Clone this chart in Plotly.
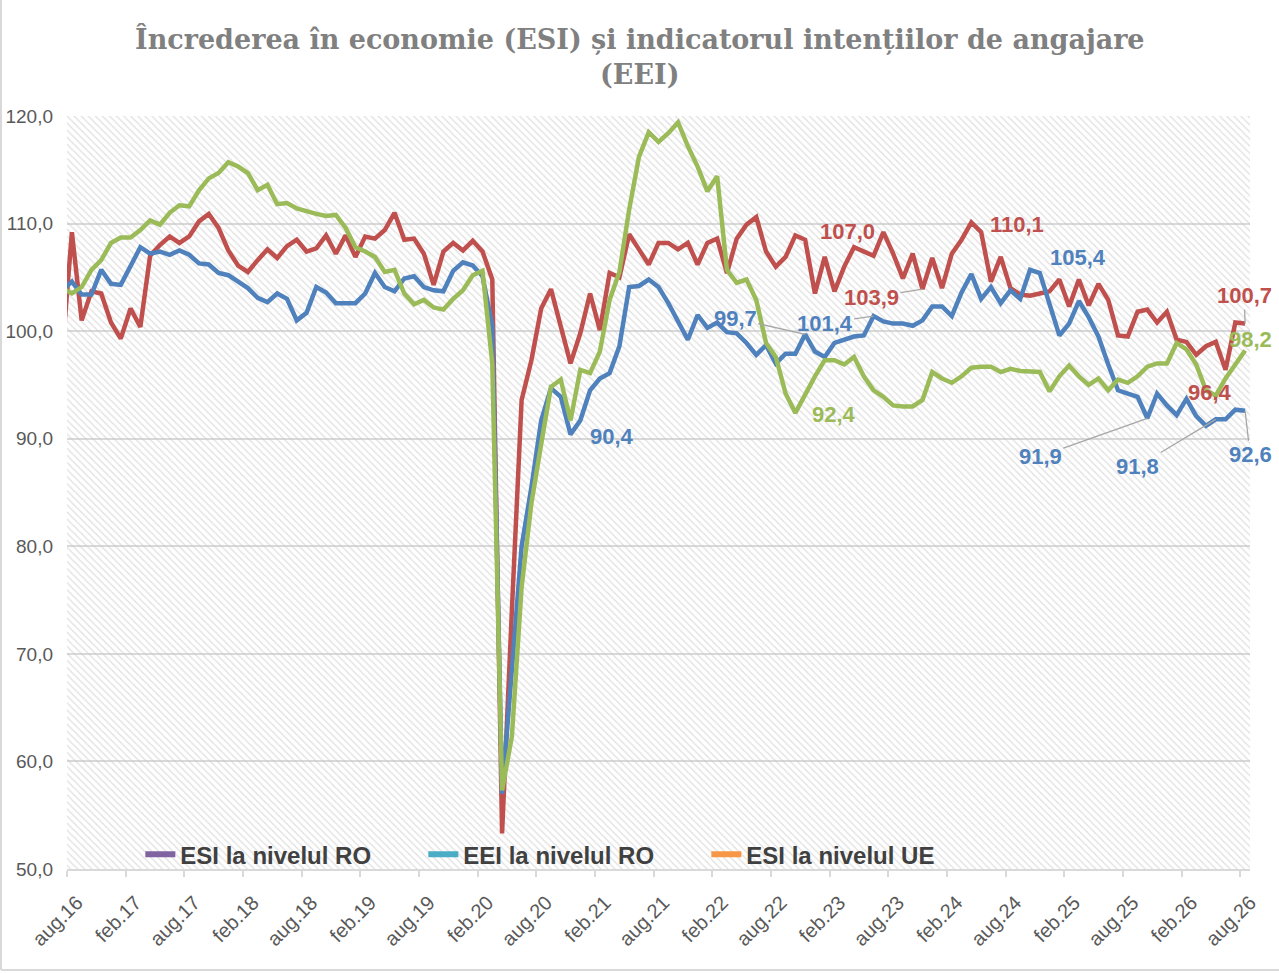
import plotly.graph_objects as go
import numpy as np

# month index: -1 = iul.16 (clipped at the left edge), 0 = aug.16 ... 120 = aug.26
month_idx = np.arange(-1, 121)

tick_labels = ["aug.16", "feb.17", "aug.17", "feb.18", "aug.18", "feb.19", "aug.19",
               "feb.20", "aug.20", "feb.21", "aug.21", "feb.22", "aug.22", "feb.23",
               "aug.23", "feb.24", "aug.24", "feb.25", "aug.25", "feb.26", "aug.26"]

esi_ro = [97.8,
          109.2, 101.0, 103.7, 103.5, 100.8, 99.3, 102.1, 100.4, 107.0, 108.0,
          108.8, 108.2, 108.8, 110.2, 110.9, 109.6, 107.5, 106.1, 105.5, 106.6,
          107.6, 106.8, 107.9, 108.5, 107.4, 107.7, 108.9, 107.2, 108.9, 106.9,
          108.8, 108.6, 109.4, 111.0, 108.5, 108.6, 107.2, 104.3, 107.4, 108.2,
          107.5, 108.4, 107.4, 104.8, 53.3, 74.0, 93.6, 97.3, 102.1, 103.9,
          100.4, 97.0, 99.8, 103.5, 100.1, 105.4, 105.0, 109.0, 107.6, 106.2,
          108.2, 108.2, 107.6, 108.2, 106.2, 108.2, 108.6, 105.4, 108.6, 109.9,
          110.6, 107.4, 106.0, 106.9, 108.9, 108.5, 103.5, 106.9, 103.7, 106.0,
          107.8, 107.4, 107.0, 109.2, 107.2, 104.9, 107.2, 103.9, 106.8, 104.0,
          107.2, 108.5, 110.1, 109.2, 104.6, 106.9, 104.0, 103.4, 103.3, 103.5,
          103.7, 104.8, 102.3, 104.8, 102.4, 104.4, 102.9, 99.6, 99.5, 101.8,
          102.0, 100.8, 101.8, 99.2, 99.0, 97.8, 98.6, 99.0, 96.4, 100.8,
          100.7]

eei_ro = [103.8,
          104.6, 103.4, 103.4, 105.7, 104.4, 104.3, 106.0, 107.8, 107.2, 107.4,
          107.1, 107.5, 107.1, 106.3, 106.2, 105.4, 105.2, 104.6, 104.0, 103.1,
          102.7, 103.5, 103.0, 101.0, 101.7, 104.1, 103.6, 102.6, 102.6, 102.6,
          103.5, 105.4, 104.1, 103.7, 104.9, 105.1, 104.1, 103.8, 103.7, 105.6,
          106.4, 106.1, 105.1, 100.5, 57.0, 68.0, 80.0, 85.5, 91.7, 94.7,
          93.9, 90.4, 91.7, 94.5, 95.6, 96.1, 98.6, 104.1, 104.2, 104.8,
          104.1, 102.6, 101.0, 99.2, 101.5, 100.3, 100.8, 99.9, 99.8, 98.9,
          97.8, 98.7, 97.0, 97.9, 97.9, 99.7, 98.1, 97.6, 98.9, 99.2,
          99.5, 99.6, 101.4, 100.9, 100.7, 100.7, 100.5, 101.0, 102.3, 102.3,
          101.4, 103.6, 105.3, 103.0, 104.1, 102.6, 103.8, 103.0, 105.7, 105.4,
          102.6, 99.6, 100.7, 102.8, 101.3, 99.5, 96.9, 94.5, 94.2, 93.9,
          91.9, 94.2, 93.1, 92.2, 93.7, 92.1, 91.2, 91.8, 91.8, 92.7,
          92.6]

esi_ue = [104.0,
          103.5, 104.1, 105.7, 106.6, 108.2, 108.7, 108.7, 109.4, 110.3, 109.9,
          111.0, 111.7, 111.6, 113.1, 114.2, 114.7, 115.7, 115.3, 114.7, 113.1,
          113.6, 111.8, 111.9, 111.4, 111.1, 110.9, 110.7, 110.8, 109.6, 107.8,
          107.4, 106.9, 105.5, 105.7, 103.5, 102.5, 102.9, 102.2, 102.0, 103.0,
          103.8, 105.2, 105.6, 97.0, 57.3, 62.3, 76.2, 84.0, 89.5, 94.8,
          95.5, 91.7, 96.4, 96.1, 98.1, 102.9, 105.5, 111.3, 116.2, 118.5,
          117.6, 118.4, 119.4, 117.2, 115.3, 113.0, 114.4, 105.7, 104.5, 104.8,
          102.9, 98.9, 97.6, 94.2, 92.4, 94.2, 95.8, 97.3, 97.3, 96.9,
          97.6, 95.8, 94.5, 93.9, 93.1, 93.0, 93.0, 93.6, 96.2, 95.6,
          95.2, 95.8, 96.6, 96.7, 96.7, 96.2, 96.5, 96.3, 96.3, 96.2,
          94.4, 95.8, 96.8, 95.8, 95.0, 95.6, 94.5, 95.5, 95.2, 95.8,
          96.7, 97.0, 97.0, 98.9, 98.3, 96.9, 94.5, 94.0, 95.6, 96.9,
          98.2]

series_names = ["ESI la nivelul RO", "EEI la nivelul RO", "ESI la nivelul UE"]
line_colors = ["#C0504D", "#4F81BD", "#9BBB59"]
legend_colors = ["#8064A2", "#4BACC6", "#F79646"]

x_range = [-0.5, 120.5]
y_range = [50, 120]

fig = go.Figure()

# hatched plot-area background
fig.add_trace(go.Scatter(
    x=[x_range[0], x_range[1], x_range[1], x_range[0], x_range[0]],
    y=[y_range[0], y_range[0], y_range[1], y_range[1], y_range[0]],
    mode="lines", line=dict(width=0), fill="toself",
    fillcolor="rgba(0,0,0,0)",
    fillpattern=dict(shape="\\", fgcolor="#c4c4c4", bgcolor="rgba(255,255,255,0)",
                     size=5, solidity=0.28),
    hoverinfo="skip", showlegend=False))

all_series = [esi_ro, eei_ro, esi_ue]
for vals, col in zip(all_series, line_colors):
    fig.add_trace(go.Scatter(x=month_idx, y=vals, mode="lines",
                             line=dict(color=col, width=4.5),
                             showlegend=False))

# legend entries (colours as in the original legend)
for name, col in zip(series_names, legend_colors):
    fig.add_trace(go.Scatter(x=[None], y=[None], mode="lines", name=name,
                             line=dict(color=col, width=6)))

# data labels: (series, month index, x offset, y offset, leader line)
labels = [
    (0, 82, -26, -24, False),
    (0, 87, -51, 8, True),
    (0, 92, 46, 2, False),
    (0, 118, -16, 23, False),
    (0, 120, -1, -28, True),
    (1, 51, 41, 2, False),
    (1, 75, -70, -16, True),
    (1, 82, -49, 7, True),
    (1, 99, 38, -16, False),
    (1, 110, -107, 38, True),
    (1, 117, -78, 47, True),
    (1, 120, 5, 44, True),
    (2, 74, 39, 2, False),
    (2, 120, 5, -11, False),
]
for s, k, dx, dy, leader in labels:
    v = all_series[s][k + 1]
    fig.add_annotation(
        x=k, y=v, xref="x", yref="y",
        text="<b>" + f"{v:.1f}".replace(".", ",") + "</b>",
        showarrow=True, ax=dx, ay=dy, arrowhead=0, arrowwidth=1.3,
        arrowcolor="#a6a6a6" if leader else "rgba(0,0,0,0)", standoff=0,
        font=dict(family="Liberation Sans, Arial, sans-serif", size=22,
                  color=line_colors[s]))

# chart title
fig.add_annotation(
    text="<b>Încrederea în economie (ESI) și indicatorul intențiilor de angajare<br>(EEI)</b>",
    xref="paper", yref="paper", x=(639.5 - 67) / 1183, y=1 + (116 - 21) / 753,
    xanchor="center", yanchor="top", showarrow=False, align="center",
    font=dict(family="DejaVu Serif, Liberation Serif, serif", size=27, color="#808080"))

fig.update_layout(
    width=1279, height=973,
    margin=dict(l=67, r=29, t=116, b=104, autoexpand=False),
    paper_bgcolor="white", plot_bgcolor="white",
    separators=",.",
    showlegend=True,
    legend=dict(orientation="h", x=0.062, y=0.019, xanchor="left", yanchor="middle",
                bgcolor="rgba(0,0,0,0)", entrywidth=238, entrywidthmode="pixels",
                font=dict(family="Liberation Sans, Arial, sans-serif",
                          size=24, color="#404040", weight="bold")),
    font=dict(family="Liberation Sans, Arial, sans-serif", color="#595959"),
)

fig.update_xaxes(range=x_range, tickmode="array", automargin=False,
                 tickvals=[x_range[0] + 6 * j for j in range(len(tick_labels))],
                 ticktext=tick_labels, tickangle=-45,
                 ticklabelshift=10, ticklabelstandoff=6,
                 ticks="outside", ticklen=6, tickcolor="#d9d9d9", tickwidth=1.5,
                 showline=True, linecolor="#d9d9d9", linewidth=2,
                 showgrid=False, zeroline=False,
                 tickfont=dict(size=20, color="#595959"))
fig.update_yaxes(range=y_range, dtick=10, tickformat=".1f", automargin=False,
                 ticklabelstandoff=13,
                 showgrid=True, gridcolor="#d9d9d9", gridwidth=1.5,
                 showline=False, zeroline=False, ticks="",
                 tickfont=dict(size=19, color="#595959"))

# thin border on the left and bottom of the chart area
fig.add_shape(type="line", xref="paper", yref="paper",
              x0=-66 / 1183, x1=-66 / 1183, y0=-101 / 753, y1=1 + 130 / 753,
              line=dict(color="#d9d9d9", width=2), layer="above")
fig.add_shape(type="line", xref="paper", yref="paper",
              x0=-66 / 1183, x1=1 + 40 / 1183, y0=-101 / 753, y1=-101 / 753,
              line=dict(color="#d9d9d9", width=2), layer="above")

# the page would otherwise add the browser's default 8px body margin
fig.write_html("out.html", config={"displayModeBar": False},
               post_script="document.body.style.margin='0';")
